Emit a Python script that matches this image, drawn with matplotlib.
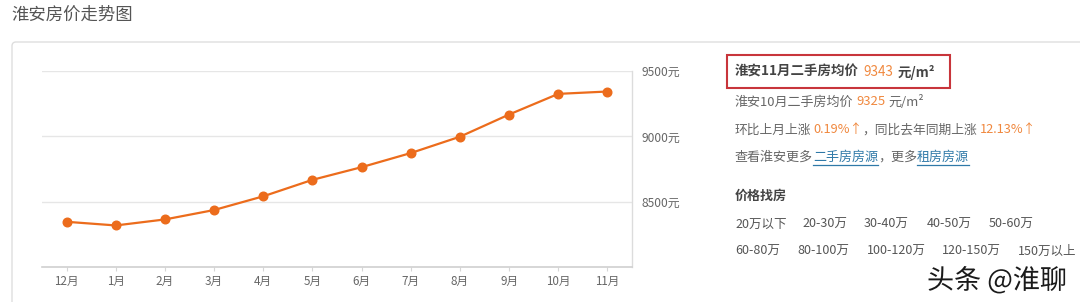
import matplotlib
matplotlib.use("Agg")
import matplotlib.pyplot as plt
from matplotlib.patches import Rectangle, FancyBboxPatch
from matplotlib.transforms import IdentityTransform
import matplotlib.patheffects as pe

plt.rcParams['font.family'] = ['Noto Sans CJK SC', 'DejaVu Sans']

# ---- data ----
months = ['12月', '1月', '2月', '3月', '4月', '5月', '6月', '7月', '8月', '9月', '10月', '11月']
prices = [8346, 8318, 8364, 8436, 8541, 8667, 8764, 8872, 8997, 9167, 9325, 9343]
y_ticks = [8500, 9000, 9500]
y_tick_labels = ['8500元', '9000元', '9500元']
price_row1 = ['20万以下', '20-30万', '30-40万', '40-50万', '50-60万']
price_row2 = ['60-80万', '80-100万', '100-120万', '120-150万', '150万以上']

W, H = 1080, 302
fig = plt.figure(figsize=(W / 100, H / 100), dpi=100)
fig.patch.set_facecolor('white')

def fx(px):
    return px / W

def fy(py):
    return 1 - py / H

# panel border (rounded, extends off image)
panel = FancyBboxPatch((12, -40), 1200, (H - 42) + 40,
                       boxstyle='round,pad=0,rounding_size=4',
                       transform=IdentityTransform(), facecolor='white',
                       edgecolor='#dedede', linewidth=1.0, zorder=-5)
fig.patches.append(panel)

# title
fig.text(fx(11), fy(15), '淮安房价走势图', fontsize=12.5, color='#555555',
         ha='left', va='center')

# ---- chart ----
ax = fig.add_axes([fx(42), fy(267), fx(632) - fx(42), fy(71) - fy(267)])
ax.set_zorder(2)
ax.set_facecolor('white')
x = list(range(len(months)))
ax.plot(x, prices, color='#ec6c1c', linewidth=1.6, marker='o',
        markersize=6.2, markerfacecolor='#ec6c1c', markeredgecolor='#ec6c1c',
        zorder=3, clip_on=False)
ax.set_xlim(-0.5, len(months) - 0.5)
ax.set_ylim(8000, 9500)
ax.set_xticks(x)
ax.set_xticklabels(months, fontsize=8.4, color='#666666')
ax.set_yticks(y_ticks)
ax.set_yticklabels(y_tick_labels, fontsize=8.6, color='#666666')
ax.yaxis.tick_right()
ax.tick_params(axis='y', length=0, pad=7)
ax.tick_params(axis='x', length=3, width=0.8, color='#d6d6d6', pad=3)
ax.grid(axis='y', color='#e6e6e6', linewidth=1.0)
ax.set_axisbelow(True)
for s in ['left', 'top']:
    ax.spines[s].set_visible(False)
ax.spines['bottom'].set_color('#d0d0d0')
ax.spines['bottom'].set_linewidth(1.2)
ax.spines['right'].set_color('#dcdcdc')
ax.spines['right'].set_linewidth(1.0)

# ---- right side text ----
renderer = fig.canvas.get_renderer()

def segs(x0, yc, parts, size=9.4):
    xpos = x0
    for p in parts:
        if isinstance(p, (int, float)):
            xpos += p
            continue
        txt, color, weight, underline = p
        t = fig.text(fx(xpos), fy(yc), txt, fontsize=size, color=color,
                     fontweight=weight, ha='left', va='center')
        bb = t.get_window_extent(renderer)
        if underline:
            fig.add_artist(plt.Line2D([fx(bb.x0), fx(bb.x1)],
                                      [fy(yc + 8), fy(yc + 8)],
                                      color=color, linewidth=0.9))
        xpos += bb.width
    return xpos

GREY = '#666666'
DARK = '#444444'
ORANGE = '#f0883e'
BLUE = '#2f79a8'

segs(735, 72, [('淮安11月二手房均价', DARK, 'bold', False), 4,
               ('9343', ORANGE, 'normal', False), 5,
               ('元/m²', DARK, 'bold', False)], size=9.7)
fig.patches.append(Rectangle((fx(726.5), fy(87.5)), fx(950) - fx(726.5),
                             fy(55) - fy(87.5), transform=fig.transFigure,
                             fill=False, edgecolor='#c8353b', linewidth=1.5))

segs(735, 102, [('淮安10月二手房均价', GREY, 'normal', False), 3,
                ('9325', ORANGE, 'normal', False), 3,
                ('元/m²', GREY, 'normal', False)])
segs(735, 130, [('环比上月上涨', GREY, 'normal', False), 2,
                ('0.19%↑', ORANGE, 'normal', False),
                ('，同比去年同期上涨', GREY, 'normal', False), 2,
                ('12.13%↑', ORANGE, 'normal', False)], size=9.2)
segs(735, 157, [('查看淮安更多', GREY, 'normal', False),
                ('二手房房源', BLUE, 'normal', True),
                ('，更多', GREY, 'normal', False),
                ('租房房源', BLUE, 'normal', True)])

fig.text(fx(735), fy(196), '价格找房', fontsize=9.4, color=DARK,
         fontweight='bold', ha='left', va='center')
row1_x = [735, 802, 864, 927, 989]
row2_x = [735, 797, 867, 942, 1018]
for lbl, xx in zip(price_row1, row1_x):
    fig.text(fx(xx), fy(224), lbl, fontsize=9.0, color='#555555',
             ha='left', va='center')
for lbl, xx in zip(price_row2, row2_x):
    fig.text(fx(xx), fy(251), lbl, fontsize=9.0, color='#555555',
             ha='left', va='center')

# watermark
fig.text(fx(927), fy(281), '头条 @淮聊', fontsize=19.5, color='#1a1a1a',
         ha='left', va='center',
         path_effects=[pe.withStroke(linewidth=2.5, foreground='white')])

fig.savefig('out.png', dpi=100)
